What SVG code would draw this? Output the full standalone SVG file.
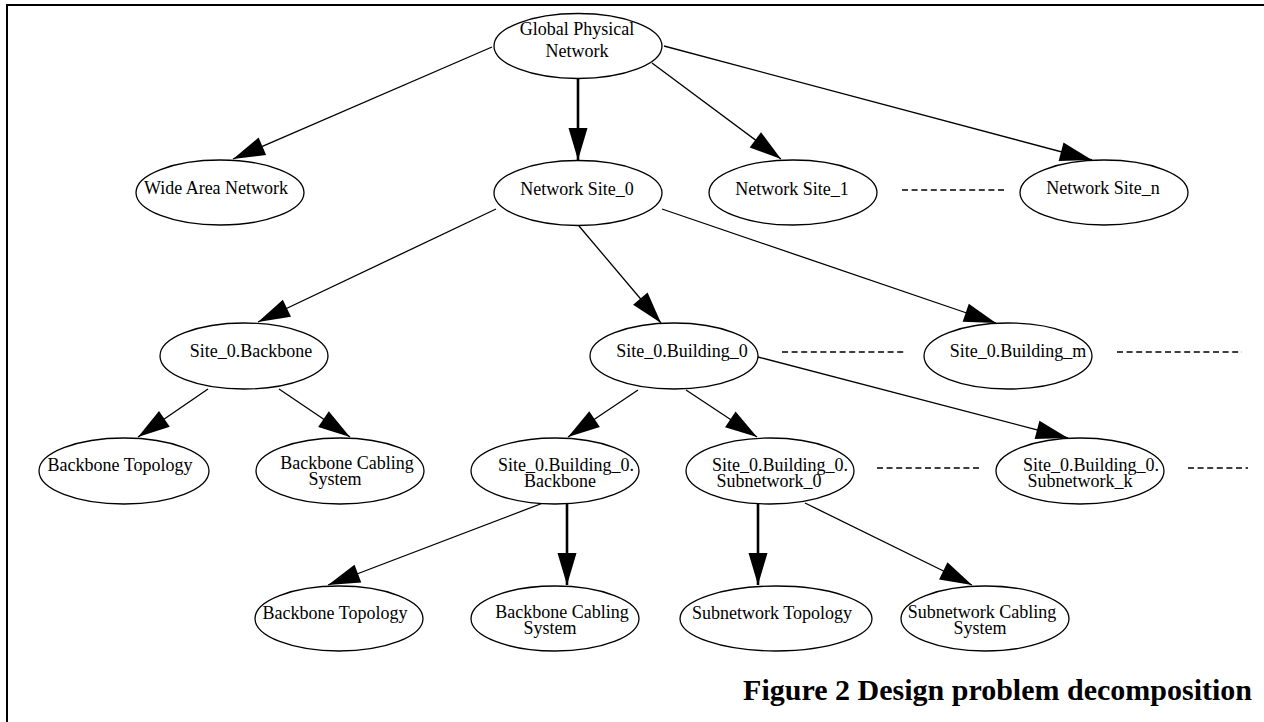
<svg xmlns="http://www.w3.org/2000/svg" width="1264" height="722" viewBox="0 0 1264 722">
<style>
  .n ellipse { fill: #fff; stroke: #000; stroke-width: 1.3; }
  .n text { font-family: "Liberation Serif", "Times New Roman", serif; font-size: 18px; fill: #000; text-anchor: middle; }
  .e { stroke: #000; stroke-width: 1.3; fill: none; marker-end: url(#ah); }
  .e.thick { stroke-width: 2.6; }
  .d { stroke: #000; stroke-width: 1.4; stroke-dasharray: 6 3.6; fill: none; }
  .title { font-family: "Liberation Serif", "Times New Roman", serif; font-size: 30px; font-weight: bold; text-anchor: end; fill: #000; }
</style>
<defs>
  <marker id="ah" markerUnits="userSpaceOnUse" markerWidth="34" markerHeight="20" refX="32" refY="9.5" orient="auto" overflow="visible">
    <path d="M0,0 L32,9.5 L0,19 Z" fill="#000"/>
  </marker>
</defs>
<rect width="1264" height="722" fill="#fff"/>
<rect id="frame" x="7" y="5" width="1300" height="760" fill="none" stroke="#000" stroke-width="2"/>

<g id="connectors">
  <line class="e" x1="492" y1="47" x2="233" y2="159"/>
  <line class="e thick" x1="578" y1="79" x2="578" y2="160"/>
  <line class="e" x1="652" y1="63" x2="781" y2="159"/>
  <line class="e" x1="664" y1="46" x2="1092" y2="160"/>
  <line class="e" x1="496" y1="209" x2="258" y2="322"/>
  <line class="e" x1="579" y1="226" x2="661" y2="323"/>
  <line class="e" x1="662" y1="209" x2="996" y2="323"/>
  <line class="e" x1="208" y1="389" x2="138" y2="437"/>
  <line class="e" x1="279" y1="389" x2="350" y2="437"/>
  <line class="e" x1="638" y1="390" x2="568" y2="437"/>
  <line class="e" x1="686" y1="390" x2="757" y2="437"/>
  <line class="e" x1="758" y1="357" x2="1068" y2="438"/>
  <line class="e" x1="543" y1="503" x2="328" y2="585"/>
  <line class="e thick" x1="567" y1="503" x2="567" y2="585"/>
  <line class="e thick" x1="758" y1="503" x2="758" y2="585"/>
  <line class="e" x1="805" y1="503" x2="972" y2="585"/>
  <line class="d" x1="902" y1="190" x2="1005" y2="190"/>
  <line class="d" x1="782" y1="352" x2="906" y2="352"/>
  <line class="d" x1="1117" y1="352" x2="1242" y2="352"/>
  <line class="d" x1="877" y1="468" x2="980" y2="468"/>
  <line class="d" x1="1188" y1="468" x2="1248" y2="468"/>
</g>

<g id="global" class="n"><ellipse cx="578" cy="46" rx="84" ry="32.5"/><text x="577" y="35">Global Physical</text><text x="577" y="57">Network</text></g>
<g id="wan" class="n"><ellipse cx="220" cy="192.5" rx="84" ry="32.5"/><text x="216" y="194">Wide Area Network</text></g>
<g id="site0" class="n"><ellipse cx="578" cy="193" rx="84" ry="32.5"/><text x="577" y="195">Network Site_0</text></g>
<g id="site1" class="n"><ellipse cx="793" cy="192.5" rx="84" ry="32.5"/><text x="792" y="195">Network Site_1</text></g>
<g id="siten" class="n"><ellipse cx="1104" cy="192.5" rx="84" ry="32.5"/><text x="1103" y="194">Network Site_n</text></g>

<g id="s0backbone" class="n"><ellipse cx="244" cy="356" rx="84" ry="33"/><text x="251" y="357">Site_0.Backbone</text></g>
<g id="s0building0" class="n"><ellipse cx="674" cy="356" rx="84" ry="33"/><text x="682" y="357">Site_0.Building_0</text></g>
<g id="s0buildingm" class="n"><ellipse cx="1008" cy="356" rx="84" ry="33"/><text x="1018" y="357">Site_0.Building_m</text></g>

<g id="bbtopo1" class="n"><ellipse cx="124" cy="471" rx="85" ry="33"/><text x="120" y="471">Backbone Topology</text></g>
<g id="bbcable1" class="n"><ellipse cx="340" cy="471" rx="84" ry="33"/><text x="347" y="469">Backbone Cabling</text><text x="335" y="485">System</text></g>
<g id="b0backbone" class="n"><ellipse cx="555" cy="471" rx="84" ry="33"/><text x="566" y="471">Site_0.Building_0.</text><text x="560" y="487">Backbone</text></g>
<g id="b0subnet0" class="n"><ellipse cx="770" cy="471" rx="84" ry="33"/><text x="780" y="471">Site_0.Building_0.</text><text x="769" y="487">Subnetwork_0</text></g>
<g id="b0subnetk" class="n"><ellipse cx="1080" cy="471" rx="84" ry="33"/><text x="1091" y="471">Site_0.Building_0.</text><text x="1080" y="487">Subnetwork_k</text></g>

<g id="bbtopo2" class="n"><ellipse cx="339" cy="618.5" rx="84" ry="32.5"/><text x="335" y="619">Backbone Topology</text></g>
<g id="bbcable2" class="n"><ellipse cx="555" cy="618.5" rx="84" ry="32.5"/><text x="562" y="618">Backbone Cabling</text><text x="550" y="634">System</text></g>
<g id="subtopo" class="n"><ellipse cx="776" cy="618.5" rx="96" ry="32.5"/><text x="772" y="619">Subnetwork Topology</text></g>
<g id="subcable" class="n"><ellipse cx="985" cy="618.5" rx="84" ry="32.5"/><text x="982" y="618">Subnetwork Cabling</text><text x="980" y="634">System</text></g>

<text class="title" x="1252" y="700">Figure 2 Design problem decomposition</text>
</svg>
